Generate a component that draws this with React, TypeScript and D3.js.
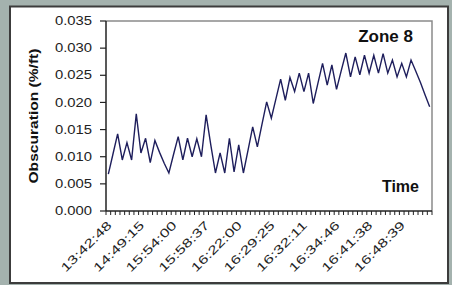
import React from 'react';
import * as d3 from 'd3';

// Obscuration readings, one per sample (%/ft)
const obscuration = [
  0.0068, 0.0105, 0.0142, 0.0094, 0.0126, 0.0094, 0.0179, 0.0107, 0.0134, 0.0089,
  0.0130, 0.0108, 0.0088, 0.0070, 0.0104, 0.0137, 0.0094, 0.0134, 0.0100, 0.0133,
  0.0100, 0.0177, 0.0122, 0.0070, 0.0107, 0.0070, 0.0134, 0.0072, 0.0122, 0.0070,
  0.0112, 0.0155, 0.0118, 0.0160, 0.0201, 0.0171, 0.0207, 0.0243, 0.0204, 0.0246,
  0.0220, 0.0254, 0.0220, 0.0254, 0.0198, 0.0235, 0.0272, 0.0232, 0.0269, 0.0224,
  0.0258, 0.0291, 0.0247, 0.0284, 0.0251, 0.0287, 0.0254, 0.0287, 0.0254, 0.0290,
  0.0254, 0.0278, 0.0247, 0.0272, 0.0247, 0.0278, 0.0258, 0.0237, 0.0214, 0.0192,
];

// time labels shown on the category axis (every 7th sample)
const timeLabels = [
  '13:42:48', '14:49:15', '15:54:00', '15:58:37', '16:22:00',
  '16:29:25', '16:32:11', '16:34:46', '16:41:38', '16:48:39',
];
const labelStep = 7;

const yTicks = [0, 0.005, 0.01, 0.015, 0.02, 0.025, 0.03, 0.035];

const W = 452;
const H = 285;

export default function App() {
  const left = 106, right = 432, top = 21, bottom = 211;

  const x = d3.scaleBand<number>()
    .domain(obscuration.map((_, i) => i))
    .range([left, right])
    .padding(0);
  const y = d3.scaleLinear().domain([0, 0.035]).range([bottom, top]);

  const line = d3.line<number>()
    .x((_, i) => (x(i) as number) + x.bandwidth() / 2)
    .y(d => y(d));

  const edges = obscuration.map((_, i) => x(i) as number).concat([right]);

  return (
    <svg width={W} height={H} style={{ position: 'absolute', left: 0, top: 0 }}
      fontFamily="Arial, 'Liberation Sans', sans-serif">
      <rect x={0} y={0} width={W} height={H} fill="#a4b2ae" />
      <rect x={10} y={6.5} width={438} height={276.5} fill="#ffffff" stroke="#3c3c3c" strokeWidth={2} />

      {/* plot frame */}
      <path d={`M${left},${top}H${right}V${bottom}`} fill="none" stroke="#8a8a8a" strokeWidth={1.5} />

      {/* y axis */}
      <line x1={left} x2={left} y1={top} y2={bottom} stroke="#222" strokeWidth={1.5} />
      {yTicks.map(t => (
        <g key={t}>
          <line x1={left - 6} x2={left} y1={y(t)} y2={y(t)} stroke="#222" strokeWidth={1.2} />
          <text x={92} y={y(t)} dy="0.35em" textAnchor="end" fontSize={12} fill="#222"
            textLength={37} lengthAdjust="spacingAndGlyphs">{d3.format('.3f')(t)}</text>
        </g>
      ))}

      {/* x axis */}
      <line x1={left} x2={right} y1={bottom} y2={bottom} stroke="#222" strokeWidth={1.5} />
      {edges.map((e, i) => (
        <line key={i} x1={e} x2={e} y1={bottom} y2={bottom + 4} stroke="#222" strokeWidth={1} />
      ))}
      {timeLabels.map((lab, k) => {
        const cx = (x(k * labelStep) as number) + x.bandwidth() / 2;
        return (
          <text key={lab} transform={`translate(${cx + 1},${223}) rotate(-45)`} textAnchor="end"
            dy="0.35em" fontSize={12} fill="#222" textLength={66} lengthAdjust="spacingAndGlyphs">{lab}</text>
        );
      })}

      <path d={line(obscuration) ?? ''} fill="none" stroke="#1e1e5c" strokeWidth={1.4} strokeLinejoin="miter" />

      <text transform={`translate(33,${(top + bottom) / 2}) rotate(-90)`} textAnchor="middle" dy="0.35em"
        fontSize={13.5} fontWeight="bold" fill="#111" textLength={135} lengthAdjust="spacingAndGlyphs">Obscuration (%/ft)</text>
      <text x={413} y={42} textAnchor="end" fontSize={17} fontWeight="bold" fill="#111">Zone 8</text>
      <text x={419} y={192} textAnchor="end" fontSize={16} fontWeight="bold" fill="#111">Time</text>
    </svg>
  );
}
